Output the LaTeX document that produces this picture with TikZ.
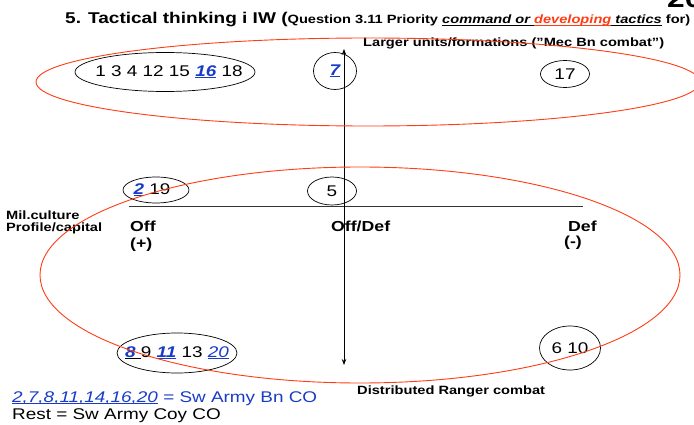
\documentclass[tikz,border=0pt]{standalone}
\usepackage{fontspec}
\setmainfont{Liberation Sans}[FakeStretch=1.22]
\usetikzlibrary{arrows.meta,shapes.geometric}
\definecolor{swblue}{RGB}{25,60,200}
\definecolor{ored}{RGB}{255,60,20}
\newcommand{\fsz}[1]{\fontsize{#1}{#1}\selectfont}
\newcommand{\ul}[1]{\begingroup\setbox0\hbox{#1}\rlap{\rule[-0.14em]{\wd0}{0.07em}}\box0\endgroup}
\begin{document}
\begin{tikzpicture}[x=1pt,y=-1pt,
  lbl/.style={inner sep=0pt, anchor=base west},
  numnode/.style={draw, ellipse, inner sep=0pt, line width=0.7pt, font=\fsz{15.5}},
  redring/.style={draw=ored, line width=0.9pt},
  axisline/.style={draw=black!80, line width=1pt},
  arrowline/.style={line width=0.8pt, {Stealth[length=6pt,width=4.5pt]}-{Stealth[length=6pt,width=4.5pt]}}]
\useasboundingbox (0,0) rectangle (694,425);
\clip (0,0) rectangle (694,425);

% title
\node[lbl, font=\bfseries\fsz{15.6}] (title) at (65,24) {5. Tactical thinking i IW (\fsz{12}Question 3.11 Priority \ul{\itshape command or }\textcolor{ored}{\ul{\itshape developing}}\ul{\itshape\ tactics} for)};
\node[lbl, font=\bfseries\fsz{26}] (pnum) at (667,8) {20};

\node[lbl, font=\bfseries\fsz{12}] (toplbl) at (363,47) {Larger units/formations (”Mec Bn combat”)};

% axes
\coordinate (ytop) at (344,49);
\coordinate (ybot) at (344,365);
\coordinate (xl) at (129,207);
\coordinate (xr) at (583,207);
\draw[axisline] (xl) -- (xr);
\draw[arrowline] (ytop) -- (ybot);

% groups
\node[numnode, minimum width=180pt, minimum height=39pt] (g1) at (165,72) {\makebox[0pt]{\hspace{8pt}1 3 4 12 15 \textcolor{swblue}{\ul{\bfseries\itshape 16}} 18}};
\node[numnode, minimum width=43pt, minimum height=37pt] (g7) at (335,71) {\makebox[0pt]{\textcolor{swblue}{\ul{\bfseries\itshape 7}}}};
\node[numnode, minimum width=49pt, minimum height=27pt] (g17) at (565,74) {\makebox[0pt]{17}};
\node[numnode, minimum width=66pt, minimum height=26pt] (g2) at (156,190) {\makebox[0pt]{\textcolor{swblue}{\ul{\bfseries\itshape 2}} 19\hspace{8pt}}};
\node[numnode, minimum width=49pt, minimum height=28pt] (g5) at (332,191) {\makebox[0pt]{5}};
\node[numnode, minimum width=120pt, minimum height=40pt] (g8) at (177,353) {\makebox[0pt]{\ul{\textcolor{swblue}{\bfseries\itshape 8}\ }9 \textcolor{swblue}{\ul{\bfseries\itshape 11}} 13 \textcolor{swblue}{\ul{\itshape 20}}}};
\node[numnode, minimum width=61pt, minimum height=44pt] (g6) at (570,348) {\makebox[0pt]{6 10}};

% labels
\node[lbl, font=\bfseries\fsz{12}] (mil) at (6,219) {Mil.culture};
\node[lbl, font=\bfseries\fsz{12}] (prof) at (6,232) {Profile/capital};
\node[lbl, font=\bfseries\fsz{14.5}] (off) at (130,231) {Off};
\node[lbl, font=\bfseries\fsz{14.5}] (offp) at (130,248) {(+)};
\node[lbl, font=\bfseries\fsz{14.5}] (offdef) at (331,231) {Off/Def};
\node[lbl, font=\bfseries\fsz{14.5}] (def) at (568,231) {Def};
\node[lbl, font=\bfseries\fsz{14.5}] (defm) at (564,247) {(-)};
\node[lbl, font=\bfseries\fsz{12}] (dist) at (357,394) {Distributed Ranger combat};
\node[lbl, font=\fsz{15.5}, text=swblue] (leg1) at (12,402) {\ul{\itshape 2,7,8,11,14,16,20} = Sw Army Bn CO};
\node[lbl, font=\fsz{15.5}] (leg2) at (12,419) {Rest = Sw Army Coy CO};

% red rings
\draw[redring] (368,82) ellipse [x radius=332pt, y radius=44pt];
\draw[redring] (360,275) ellipse [x radius=320pt, y radius=108pt];
\end{tikzpicture}
\end{document}
